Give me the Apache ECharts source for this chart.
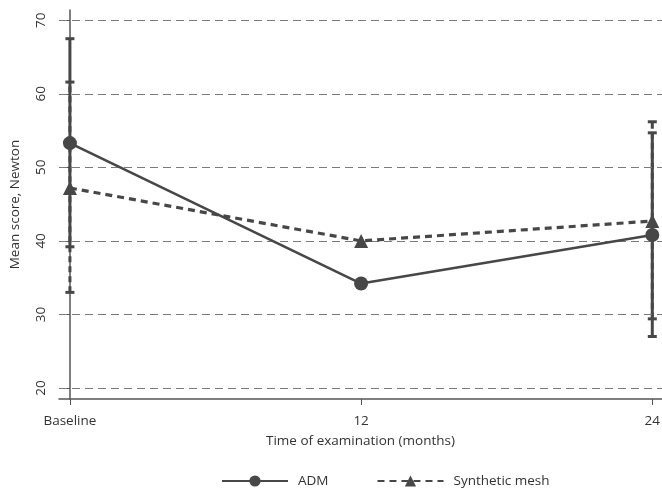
<!DOCTYPE html>
<html>
<head>
<meta charset="utf-8">
<script src="https://cdn.jsdelivr.net/npm/echarts@6/dist/echarts.min.js"></script>
<style>
html,body{margin:0;padding:0;background:#fff;}
#chart{width:662px;height:493px;}
</style>
</head>
<body>
<div id="chart"></div>
<script>
// ---- data ----
const months = [0, 12, 24];
const xTickLabels = ['Baseline', '12', '24'];
const yTicks = [20, 30, 40, 50, 60, 70];

const admMean = [53.3, 34.2, 40.8];
const admLow  = [39.2, null, 27.0];
const admHigh = [67.5, null, 54.7];

const meshMean = [47.2, 40.0, 42.7];
const meshLow  = [33.0, null, 29.4];
const meshHigh = [61.6, null, 56.2];

const seriesNames = ['ADM', 'Synthetic mesh'];

// ---- chart ----
const INK = '#474747';
const TXT = '#333';
const FONT = 'Open Sans';
const FS = 13.5;
const chart = echarts.init(document.getElementById('chart'), null, {renderer: 'canvas'});

function errData(low, high) {
  const out = [];
  months.forEach((m, i) => {
    if (low[i] != null && high[i] != null) out.push([m, low[i], high[i]]);
  });
  return out;
}

function errRenderer(dashed) {
  return function (params, api) {
    const x = api.value(0);
    const pLo = api.coord([x, api.value(1)]);
    const pHi = api.coord([x, api.value(2)]);
    const cap = 4.5;
    const style = {stroke: INK, lineWidth: 3, fill: null, lineDash: dashed ? [6, 4] : null};
    return {
      type: 'group',
      children: [
        {type: 'line', shape: {x1: pLo[0], y1: pLo[1], x2: pHi[0], y2: pHi[1]}, style: style},
        {type: 'line', shape: {x1: pHi[0] - cap, y1: pHi[1], x2: pHi[0] + cap, y2: pHi[1]}, style: {stroke: INK, lineWidth: 3}},
        {type: 'line', shape: {x1: pLo[0] - cap, y1: pLo[1], x2: pLo[0] + cap, y2: pLo[1]}, style: {stroke: INK, lineWidth: 3}}
      ]
    };
  };
}

const option = {
  animation: false,
  backgroundColor: '#fff',
  textStyle: {fontFamily: FONT, color: TXT},
  grid: {left: 59, right: 0, top: 10, bottom: 94, containLabel: false, outerBoundsMode: 'none'},
  legend: {
    bottom: 0,
    left: 216,
    itemWidth: 66,
    itemHeight: 14,
    itemGap: 48,
    data: seriesNames,
    textStyle: {fontFamily: FONT, fontSize: FS, color: TXT, padding: [0, 0, 0, 5]}
  },
  xAxis: {
    type: 'value',
    min: -0.45,
    max: 24.4,
    name: 'Time of examination (months)',
    nameLocation: 'middle',
    nameGap: 35,
    nameTextStyle: {fontFamily: FONT, fontSize: FS, color: TXT},
    axisLine: {show: true, lineStyle: {color: '#555', width: 1.5}},
    axisTick: {show: true, length: 6, inside: false, customValues: months, lineStyle: {color: '#555'}},
    axisLabel: {
      customValues: months,
      fontFamily: FONT, fontSize: FS, color: TXT, margin: 15,
      formatter: function (v) { const i = months.indexOf(v); return i >= 0 ? xTickLabels[i] : ''; }
    },
    splitLine: {show: false}
  },
  yAxis: {
    type: 'value',
    min: 18.5,
    max: 71.4,
    name: 'Mean score, Newton',
    nameLocation: 'middle',
    nameGap: 37,
    nameTextStyle: {fontFamily: FONT, fontSize: FS, color: TXT},
    axisLine: {show: true, lineStyle: {color: '#555', width: 1.5}},
    axisTick: {show: true, length: 5, customValues: yTicks, lineStyle: {color: '#555'}},
    axisLabel: {
      customValues: yTicks,
      rotate: 90,
      fontFamily: FONT, fontSize: FS, color: TXT, margin: 11
    },
    splitLine: {show: false}
  },
  series: [
    {
      name: '_grid',
      type: 'line',
      data: [],
      silent: true,
      z: 1,
      markLine: {
        silent: true,
        symbol: 'none',
        label: {show: false},
        lineStyle: {type: [8, 5], color: '#7a7a7a', width: 1},
        data: yTicks.map(v => ({yAxis: v}))
      }
    },
    {
      name: 'meshErr',
      type: 'custom',
      renderItem: errRenderer(true),
      data: errData(meshLow, meshHigh),
      encode: {x: 0, y: [1, 2]},
      z: 3,
      silent: true
    },
    {
      name: 'admErr',
      type: 'custom',
      renderItem: errRenderer(false),
      data: errData(admLow, admHigh),
      encode: {x: 0, y: [1, 2]},
      z: 4,
      silent: true
    },
    {
      name: seriesNames[1],
      type: 'line',
      data: months.map((m, i) => [m, meshMean[i]]),
      symbol: 'triangle',
      symbolSize: 14,
      showSymbol: true,
      itemStyle: {color: INK},
      lineStyle: {color: INK, width: 3.2, type: [7, 5]},
      z: 5
    },
    {
      name: seriesNames[0],
      type: 'line',
      data: months.map((m, i) => [m, admMean[i]]),
      symbol: 'circle',
      symbolSize: 14,
      showSymbol: true,
      itemStyle: {color: INK},
      lineStyle: {color: INK, width: 2.6},
      z: 6
    }
  ]
};
chart.setOption(option);
</script>
</body>
</html>
